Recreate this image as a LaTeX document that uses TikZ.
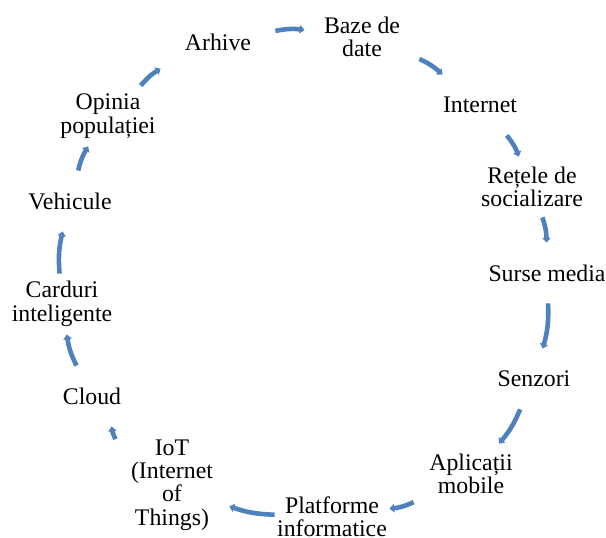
\documentclass[tikz,border=0pt]{standalone}
\usepackage{fontspec}
\setmainfont{Liberation Serif}
\usepackage{xcolor}
\usepackage{tikz}
\usetikzlibrary{arrows.meta}
\definecolor{cycblue}{RGB}{79,129,189}
\begin{document}
\begin{tikzpicture}[
  x=0.5pt,y=0.5pt,
  font=\fontsize{11.9}{11.7}\selectfont,
  item/.style={align=center,inner sep=0pt,minimum width=57pt,minimum height=30pt},
  arr/.style={draw=cycblue,line width=2.3pt,-{Triangle[length=2.4pt,width=4.2pt]}},
  ]
  \useasboundingbox (0,0) rectangle (606,537);
  \node[item] (arhive)    at (218,495) {Arhive};
  \node[item] (baze)      at (362,500) {Baze de\\date};
  \node[item] (internet)  at (480,432) {Internet};
  \node[item] (retele)    at (532,350) {Rețele de\\socializare};
  \node[item] (surse)     at (547,264) {Surse media};
  \node[item] (senzori)   at (534,158) {Senzori};
  \node[item] (aplicatii) at (471, 63) {Aplicații\\mobile};
  \node[item] (platforme) at (332, 20) {Platforme\\informatice};
  \node[item] (iot)       at (172, 52) {IoT\\(Internet\\of\\Things)};
  \node[item] (cloud)     at ( 92,141) {Cloud};
  \node[item] (carduri)   at ( 62,233) {Carduri\\inteligente};
  \node[item] (vehicule)  at ( 70,336) {Vehicule};
  \node[item] (opinia)    at (108,421) {Opinia\\populației};
  \draw[arr] (arhive)    to[bend left=9] (baze);
  \draw[arr] (baze)      to[bend left=9] (internet);
  \draw[arr] (internet)  to[bend left=9] (retele);
  \draw[arr] (retele)    to[bend left=9] (surse);
  \draw[arr] (surse)     to[bend left=9] (senzori);
  \draw[arr] (senzori)   to[bend left=9] (aplicatii);
  \draw[arr] (aplicatii) to[bend left=9] (platforme);
  \draw[arr] (platforme) to[bend left=9] (iot);
  \draw[arr] (iot)       to[bend left=9] (cloud);
  \draw[arr] (cloud)     to[bend left=9] (carduri);
  \draw[arr] (carduri)   to[bend left=9] (vehicule);
  \draw[arr] (vehicule)  to[bend left=9] (opinia);
  \draw[arr] (opinia)    to[bend left=9] (arhive);
\end{tikzpicture}
\end{document}
